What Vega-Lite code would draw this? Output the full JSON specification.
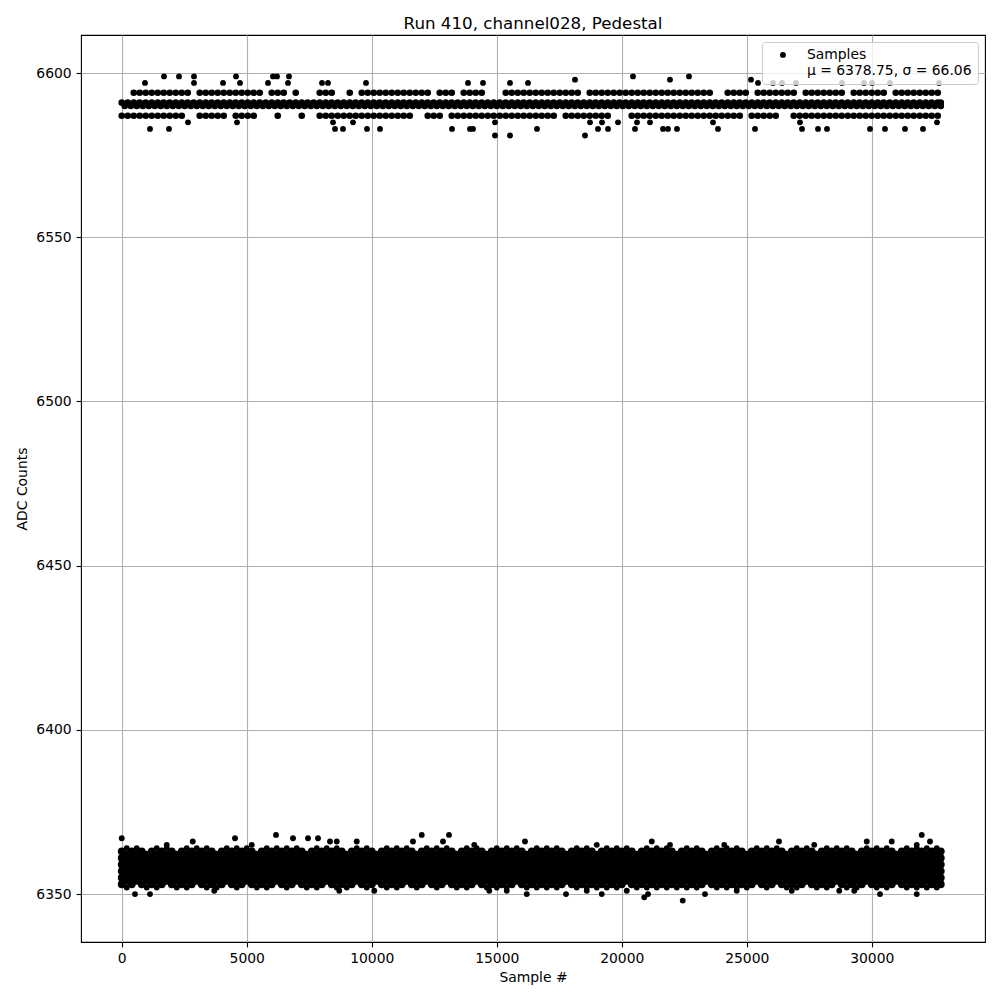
{
"$schema":"https://vega.github.io/schema/vega-lite/v6.json",
"width":904,"height":907,
"autosize":{"type":"none"},
"padding":{"left":81,"top":35,"right":15,"bottom":58},
"background":"white",
"title":{"text":"Run 410, channel028, Pedestal","font":"DejaVu Sans","fontSize":16.7,"fontWeight":"normal","color":"black","offset":2},
"config":{
"view":{"stroke":"black","strokeWidth":1.1},
"axis":{"domain":false,"grid":true,"gridColor":"#b0b0b0","gridWidth":1.1,"tickColor":"black","tickSize":4.9,"tickWidth":1.1,"labelPadding":4.9,"labelFont":"DejaVu Sans","labelFontSize":13.9,"labelColor":"black","titleFont":"DejaVu Sans","titleFontSize":13.9,"titleFontWeight":"normal","titleColor":"black"}
},
"data":{"values":[
{"s":0,"v":6353},{"s":400,"v":6353},{"s":800,"v":6353},{"s":1200,"v":6353},{"s":1600,"v":6353},{"s":2000,"v":6353},{"s":2400,"v":6353},{"s":2800,"v":6353},{"s":3200,"v":6353},{"s":3600,"v":6353},{"s":4000,"v":6353},{"s":4400,"v":6353},{"s":4800,"v":6353},{"s":5200,"v":6353},{"s":5600,"v":6353},{"s":6000,"v":6353},{"s":6400,"v":6353},{"s":6800,"v":6353},{"s":7200,"v":6353},{"s":7600,"v":6353},{"s":8000,"v":6353},{"s":8400,"v":6353},{"s":8800,"v":6353},{"s":9200,"v":6353},{"s":9600,"v":6353},{"s":10000,"v":6353},{"s":10400,"v":6353},{"s":10800,"v":6353},{"s":11200,"v":6353},{"s":11600,"v":6353},{"s":12000,"v":6353},{"s":12400,"v":6353},{"s":12800,"v":6353},{"s":13200,"v":6353},{"s":13600,"v":6353},{"s":14000,"v":6353},{"s":14400,"v":6353},{"s":14800,"v":6353},{"s":15200,"v":6353},{"s":15600,"v":6353},{"s":16000,"v":6353},{"s":16400,"v":6353},{"s":16800,"v":6353},{"s":17200,"v":6353},{"s":17600,"v":6353},{"s":18000,"v":6353},{"s":18400,"v":6353},{"s":18800,"v":6353},{"s":19200,"v":6353},{"s":19600,"v":6353},{"s":20000,"v":6353},{"s":20400,"v":6353},{"s":20800,"v":6353},{"s":21200,"v":6353},{"s":21600,"v":6353},{"s":22000,"v":6353},{"s":22400,"v":6353},{"s":22800,"v":6353},{"s":23200,"v":6353},{"s":23600,"v":6353},{"s":24000,"v":6353},{"s":24400,"v":6353},{"s":24800,"v":6353},{"s":25200,"v":6353},{"s":25600,"v":6353},{"s":26000,"v":6353},{"s":26400,"v":6353},{"s":26800,"v":6353},{"s":27200,"v":6353},{"s":27600,"v":6353},{"s":28000,"v":6353},{"s":28400,"v":6353},{"s":28800,"v":6353},{"s":29200,"v":6353},{"s":29600,"v":6353},{"s":30000,"v":6353},{"s":30400,"v":6353},{"s":30800,"v":6353},{"s":31200,"v":6353},{"s":31600,"v":6353},{"s":32000,"v":6353},{"s":32400,"v":6353},{"s":32760,"v":6353},
{"s":0,"v":6355},{"s":400,"v":6355},{"s":800,"v":6355},{"s":1200,"v":6355},{"s":1600,"v":6355},{"s":2000,"v":6355},{"s":2400,"v":6355},{"s":2800,"v":6355},{"s":3200,"v":6355},{"s":3600,"v":6355},{"s":4000,"v":6355},{"s":4400,"v":6355},{"s":4800,"v":6355},{"s":5200,"v":6355},{"s":5600,"v":6355},{"s":6000,"v":6355},{"s":6400,"v":6355},{"s":6800,"v":6355},{"s":7200,"v":6355},{"s":7600,"v":6355},{"s":8000,"v":6355},{"s":8400,"v":6355},{"s":8800,"v":6355},{"s":9200,"v":6355},{"s":9600,"v":6355},{"s":10000,"v":6355},{"s":10400,"v":6355},{"s":10800,"v":6355},{"s":11200,"v":6355},{"s":11600,"v":6355},{"s":12000,"v":6355},{"s":12400,"v":6355},{"s":12800,"v":6355},{"s":13200,"v":6355},{"s":13600,"v":6355},{"s":14000,"v":6355},{"s":14400,"v":6355},{"s":14800,"v":6355},{"s":15200,"v":6355},{"s":15600,"v":6355},{"s":16000,"v":6355},{"s":16400,"v":6355},{"s":16800,"v":6355},{"s":17200,"v":6355},{"s":17600,"v":6355},{"s":18000,"v":6355},{"s":18400,"v":6355},{"s":18800,"v":6355},{"s":19200,"v":6355},{"s":19600,"v":6355},{"s":20000,"v":6355},{"s":20400,"v":6355},{"s":20800,"v":6355},{"s":21200,"v":6355},{"s":21600,"v":6355},{"s":22000,"v":6355},{"s":22400,"v":6355},{"s":22800,"v":6355},{"s":23200,"v":6355},{"s":23600,"v":6355},{"s":24000,"v":6355},{"s":24400,"v":6355},{"s":24800,"v":6355},{"s":25200,"v":6355},{"s":25600,"v":6355},{"s":26000,"v":6355},{"s":26400,"v":6355},{"s":26800,"v":6355},{"s":27200,"v":6355},{"s":27600,"v":6355},{"s":28000,"v":6355},{"s":28400,"v":6355},{"s":28800,"v":6355},{"s":29200,"v":6355},{"s":29600,"v":6355},{"s":30000,"v":6355},{"s":30400,"v":6355},{"s":30800,"v":6355},{"s":31200,"v":6355},{"s":31600,"v":6355},{"s":32000,"v":6355},{"s":32400,"v":6355},{"s":32760,"v":6355},
{"s":0,"v":6357},{"s":400,"v":6357},{"s":800,"v":6357},{"s":1200,"v":6357},{"s":1600,"v":6357},{"s":2000,"v":6357},{"s":2400,"v":6357},{"s":2800,"v":6357},{"s":3200,"v":6357},{"s":3600,"v":6357},{"s":4000,"v":6357},{"s":4400,"v":6357},{"s":4800,"v":6357},{"s":5200,"v":6357},{"s":5600,"v":6357},{"s":6000,"v":6357},{"s":6400,"v":6357},{"s":6800,"v":6357},{"s":7200,"v":6357},{"s":7600,"v":6357},{"s":8000,"v":6357},{"s":8400,"v":6357},{"s":8800,"v":6357},{"s":9200,"v":6357},{"s":9600,"v":6357},{"s":10000,"v":6357},{"s":10400,"v":6357},{"s":10800,"v":6357},{"s":11200,"v":6357},{"s":11600,"v":6357},{"s":12000,"v":6357},{"s":12400,"v":6357},{"s":12800,"v":6357},{"s":13200,"v":6357},{"s":13600,"v":6357},{"s":14000,"v":6357},{"s":14400,"v":6357},{"s":14800,"v":6357},{"s":15200,"v":6357},{"s":15600,"v":6357},{"s":16000,"v":6357},{"s":16400,"v":6357},{"s":16800,"v":6357},{"s":17200,"v":6357},{"s":17600,"v":6357},{"s":18000,"v":6357},{"s":18400,"v":6357},{"s":18800,"v":6357},{"s":19200,"v":6357},{"s":19600,"v":6357},{"s":20000,"v":6357},{"s":20400,"v":6357},{"s":20800,"v":6357},{"s":21200,"v":6357},{"s":21600,"v":6357},{"s":22000,"v":6357},{"s":22400,"v":6357},{"s":22800,"v":6357},{"s":23200,"v":6357},{"s":23600,"v":6357},{"s":24000,"v":6357},{"s":24400,"v":6357},{"s":24800,"v":6357},{"s":25200,"v":6357},{"s":25600,"v":6357},{"s":26000,"v":6357},{"s":26400,"v":6357},{"s":26800,"v":6357},{"s":27200,"v":6357},{"s":27600,"v":6357},{"s":28000,"v":6357},{"s":28400,"v":6357},{"s":28800,"v":6357},{"s":29200,"v":6357},{"s":29600,"v":6357},{"s":30000,"v":6357},{"s":30400,"v":6357},{"s":30800,"v":6357},{"s":31200,"v":6357},{"s":31600,"v":6357},{"s":32000,"v":6357},{"s":32400,"v":6357},{"s":32760,"v":6357},
{"s":0,"v":6359},{"s":400,"v":6359},{"s":800,"v":6359},{"s":1200,"v":6359},{"s":1600,"v":6359},{"s":2000,"v":6359},{"s":2400,"v":6359},{"s":2800,"v":6359},{"s":3200,"v":6359},{"s":3600,"v":6359},{"s":4000,"v":6359},{"s":4400,"v":6359},{"s":4800,"v":6359},{"s":5200,"v":6359},{"s":5600,"v":6359},{"s":6000,"v":6359},{"s":6400,"v":6359},{"s":6800,"v":6359},{"s":7200,"v":6359},{"s":7600,"v":6359},{"s":8000,"v":6359},{"s":8400,"v":6359},{"s":8800,"v":6359},{"s":9200,"v":6359},{"s":9600,"v":6359},{"s":10000,"v":6359},{"s":10400,"v":6359},{"s":10800,"v":6359},{"s":11200,"v":6359},{"s":11600,"v":6359},{"s":12000,"v":6359},{"s":12400,"v":6359},{"s":12800,"v":6359},{"s":13200,"v":6359},{"s":13600,"v":6359},{"s":14000,"v":6359},{"s":14400,"v":6359},{"s":14800,"v":6359},{"s":15200,"v":6359},{"s":15600,"v":6359},{"s":16000,"v":6359},{"s":16400,"v":6359},{"s":16800,"v":6359},{"s":17200,"v":6359},{"s":17600,"v":6359},{"s":18000,"v":6359},{"s":18400,"v":6359},{"s":18800,"v":6359},{"s":19200,"v":6359},{"s":19600,"v":6359},{"s":20000,"v":6359},{"s":20400,"v":6359},{"s":20800,"v":6359},{"s":21200,"v":6359},{"s":21600,"v":6359},{"s":22000,"v":6359},{"s":22400,"v":6359},{"s":22800,"v":6359},{"s":23200,"v":6359},{"s":23600,"v":6359},{"s":24000,"v":6359},{"s":24400,"v":6359},{"s":24800,"v":6359},{"s":25200,"v":6359},{"s":25600,"v":6359},{"s":26000,"v":6359},{"s":26400,"v":6359},{"s":26800,"v":6359},{"s":27200,"v":6359},{"s":27600,"v":6359},{"s":28000,"v":6359},{"s":28400,"v":6359},{"s":28800,"v":6359},{"s":29200,"v":6359},{"s":29600,"v":6359},{"s":30000,"v":6359},{"s":30400,"v":6359},{"s":30800,"v":6359},{"s":31200,"v":6359},{"s":31600,"v":6359},{"s":32000,"v":6359},{"s":32400,"v":6359},{"s":32760,"v":6359},
{"s":0,"v":6361},{"s":400,"v":6361},{"s":800,"v":6361},{"s":1200,"v":6361},{"s":1600,"v":6361},{"s":2000,"v":6361},{"s":2400,"v":6361},{"s":2800,"v":6361},{"s":3200,"v":6361},{"s":3600,"v":6361},{"s":4000,"v":6361},{"s":4400,"v":6361},{"s":4800,"v":6361},{"s":5200,"v":6361},{"s":5600,"v":6361},{"s":6000,"v":6361},{"s":6400,"v":6361},{"s":6800,"v":6361},{"s":7200,"v":6361},{"s":7600,"v":6361},{"s":8000,"v":6361},{"s":8400,"v":6361},{"s":8800,"v":6361},{"s":9200,"v":6361},{"s":9600,"v":6361},{"s":10000,"v":6361},{"s":10400,"v":6361},{"s":10800,"v":6361},{"s":11200,"v":6361},{"s":11600,"v":6361},{"s":12000,"v":6361},{"s":12400,"v":6361},{"s":12800,"v":6361},{"s":13200,"v":6361},{"s":13600,"v":6361},{"s":14000,"v":6361},{"s":14400,"v":6361},{"s":14800,"v":6361},{"s":15200,"v":6361},{"s":15600,"v":6361},{"s":16000,"v":6361},{"s":16400,"v":6361},{"s":16800,"v":6361},{"s":17200,"v":6361},{"s":17600,"v":6361},{"s":18000,"v":6361},{"s":18400,"v":6361},{"s":18800,"v":6361},{"s":19200,"v":6361},{"s":19600,"v":6361},{"s":20000,"v":6361},{"s":20400,"v":6361},{"s":20800,"v":6361},{"s":21200,"v":6361},{"s":21600,"v":6361},{"s":22000,"v":6361},{"s":22400,"v":6361},{"s":22800,"v":6361},{"s":23200,"v":6361},{"s":23600,"v":6361},{"s":24000,"v":6361},{"s":24400,"v":6361},{"s":24800,"v":6361},{"s":25200,"v":6361},{"s":25600,"v":6361},{"s":26000,"v":6361},{"s":26400,"v":6361},{"s":26800,"v":6361},{"s":27200,"v":6361},{"s":27600,"v":6361},{"s":28000,"v":6361},{"s":28400,"v":6361},{"s":28800,"v":6361},{"s":29200,"v":6361},{"s":29600,"v":6361},{"s":30000,"v":6361},{"s":30400,"v":6361},{"s":30800,"v":6361},{"s":31200,"v":6361},{"s":31600,"v":6361},{"s":32000,"v":6361},{"s":32400,"v":6361},{"s":32760,"v":6361},
{"s":0,"v":6363},{"s":400,"v":6363},{"s":800,"v":6363},{"s":1200,"v":6363},{"s":1600,"v":6363},{"s":2000,"v":6363},{"s":2400,"v":6363},{"s":2800,"v":6363},{"s":3200,"v":6363},{"s":3600,"v":6363},{"s":4000,"v":6363},{"s":4400,"v":6363},{"s":4800,"v":6363},{"s":5200,"v":6363},{"s":5600,"v":6363},{"s":6000,"v":6363},{"s":6400,"v":6363},{"s":6800,"v":6363},{"s":7200,"v":6363},{"s":7600,"v":6363},{"s":8000,"v":6363},{"s":8400,"v":6363},{"s":8800,"v":6363},{"s":9200,"v":6363},{"s":9600,"v":6363},{"s":10000,"v":6363},{"s":10400,"v":6363},{"s":10800,"v":6363},{"s":11200,"v":6363},{"s":11600,"v":6363},{"s":12000,"v":6363},{"s":12400,"v":6363},{"s":12800,"v":6363},{"s":13200,"v":6363},{"s":13600,"v":6363},{"s":14000,"v":6363},{"s":14400,"v":6363},{"s":14800,"v":6363},{"s":15200,"v":6363},{"s":15600,"v":6363},{"s":16000,"v":6363},{"s":16400,"v":6363},{"s":16800,"v":6363},{"s":17200,"v":6363},{"s":17600,"v":6363},{"s":18000,"v":6363},{"s":18400,"v":6363},{"s":18800,"v":6363},{"s":19200,"v":6363},{"s":19600,"v":6363},{"s":20000,"v":6363},{"s":20400,"v":6363},{"s":20800,"v":6363},{"s":21200,"v":6363},{"s":21600,"v":6363},{"s":22000,"v":6363},{"s":22400,"v":6363},{"s":22800,"v":6363},{"s":23200,"v":6363},{"s":23600,"v":6363},{"s":24000,"v":6363},{"s":24400,"v":6363},{"s":24800,"v":6363},{"s":25200,"v":6363},{"s":25600,"v":6363},{"s":26000,"v":6363},{"s":26400,"v":6363},{"s":26800,"v":6363},{"s":27200,"v":6363},{"s":27600,"v":6363},{"s":28000,"v":6363},{"s":28400,"v":6363},{"s":28800,"v":6363},{"s":29200,"v":6363},{"s":29600,"v":6363},{"s":30000,"v":6363},{"s":30400,"v":6363},{"s":30800,"v":6363},{"s":31200,"v":6363},{"s":31600,"v":6363},{"s":32000,"v":6363},{"s":32400,"v":6363},{"s":32760,"v":6363},
{"s":200,"v":6354},{"s":600,"v":6354},{"s":1000,"v":6354},{"s":1400,"v":6354},{"s":1800,"v":6354},{"s":2200,"v":6354},{"s":2600,"v":6354},{"s":3000,"v":6354},{"s":3400,"v":6354},{"s":3800,"v":6354},{"s":4200,"v":6354},{"s":4600,"v":6354},{"s":5000,"v":6354},{"s":5400,"v":6354},{"s":5800,"v":6354},{"s":6200,"v":6354},{"s":6600,"v":6354},{"s":7000,"v":6354},{"s":7400,"v":6354},{"s":7800,"v":6354},{"s":8200,"v":6354},{"s":8600,"v":6354},{"s":9000,"v":6354},{"s":9400,"v":6354},{"s":9800,"v":6354},{"s":10200,"v":6354},{"s":10600,"v":6354},{"s":11000,"v":6354},{"s":11400,"v":6354},{"s":11800,"v":6354},{"s":12200,"v":6354},{"s":12600,"v":6354},{"s":13000,"v":6354},{"s":13400,"v":6354},{"s":13800,"v":6354},{"s":14200,"v":6354},{"s":14600,"v":6354},{"s":15000,"v":6354},{"s":15400,"v":6354},{"s":15800,"v":6354},{"s":16200,"v":6354},{"s":16600,"v":6354},{"s":17000,"v":6354},{"s":17400,"v":6354},{"s":17800,"v":6354},{"s":18200,"v":6354},{"s":18600,"v":6354},{"s":19000,"v":6354},{"s":19400,"v":6354},{"s":19800,"v":6354},{"s":20200,"v":6354},{"s":20600,"v":6354},{"s":21000,"v":6354},{"s":21400,"v":6354},{"s":21800,"v":6354},{"s":22200,"v":6354},{"s":22600,"v":6354},{"s":23000,"v":6354},{"s":23400,"v":6354},{"s":23800,"v":6354},{"s":24200,"v":6354},{"s":24600,"v":6354},{"s":25000,"v":6354},{"s":25400,"v":6354},{"s":25800,"v":6354},{"s":26200,"v":6354},{"s":26600,"v":6354},{"s":27000,"v":6354},{"s":27400,"v":6354},{"s":27800,"v":6354},{"s":28200,"v":6354},{"s":28600,"v":6354},{"s":29000,"v":6354},{"s":29400,"v":6354},{"s":29800,"v":6354},{"s":30200,"v":6354},{"s":30600,"v":6354},{"s":31000,"v":6354},{"s":31400,"v":6354},{"s":31800,"v":6354},{"s":32200,"v":6354},{"s":32600,"v":6354},
{"s":200,"v":6356},{"s":600,"v":6356},{"s":1000,"v":6356},{"s":1400,"v":6356},{"s":1800,"v":6356},{"s":2200,"v":6356},{"s":2600,"v":6356},{"s":3000,"v":6356},{"s":3400,"v":6356},{"s":3800,"v":6356},{"s":4200,"v":6356},{"s":4600,"v":6356},{"s":5000,"v":6356},{"s":5400,"v":6356},{"s":5800,"v":6356},{"s":6200,"v":6356},{"s":6600,"v":6356},{"s":7000,"v":6356},{"s":7400,"v":6356},{"s":7800,"v":6356},{"s":8200,"v":6356},{"s":8600,"v":6356},{"s":9000,"v":6356},{"s":9400,"v":6356},{"s":9800,"v":6356},{"s":10200,"v":6356},{"s":10600,"v":6356},{"s":11000,"v":6356},{"s":11400,"v":6356},{"s":11800,"v":6356},{"s":12200,"v":6356},{"s":12600,"v":6356},{"s":13000,"v":6356},{"s":13400,"v":6356},{"s":13800,"v":6356},{"s":14200,"v":6356},{"s":14600,"v":6356},{"s":15000,"v":6356},{"s":15400,"v":6356},{"s":15800,"v":6356},{"s":16200,"v":6356},{"s":16600,"v":6356},{"s":17000,"v":6356},{"s":17400,"v":6356},{"s":17800,"v":6356},{"s":18200,"v":6356},{"s":18600,"v":6356},{"s":19000,"v":6356},{"s":19400,"v":6356},{"s":19800,"v":6356},{"s":20200,"v":6356},{"s":20600,"v":6356},{"s":21000,"v":6356},{"s":21400,"v":6356},{"s":21800,"v":6356},{"s":22200,"v":6356},{"s":22600,"v":6356},{"s":23000,"v":6356},{"s":23400,"v":6356},{"s":23800,"v":6356},{"s":24200,"v":6356},{"s":24600,"v":6356},{"s":25000,"v":6356},{"s":25400,"v":6356},{"s":25800,"v":6356},{"s":26200,"v":6356},{"s":26600,"v":6356},{"s":27000,"v":6356},{"s":27400,"v":6356},{"s":27800,"v":6356},{"s":28200,"v":6356},{"s":28600,"v":6356},{"s":29000,"v":6356},{"s":29400,"v":6356},{"s":29800,"v":6356},{"s":30200,"v":6356},{"s":30600,"v":6356},{"s":31000,"v":6356},{"s":31400,"v":6356},{"s":31800,"v":6356},{"s":32200,"v":6356},{"s":32600,"v":6356},
{"s":200,"v":6358},{"s":600,"v":6358},{"s":1000,"v":6358},{"s":1400,"v":6358},{"s":1800,"v":6358},{"s":2200,"v":6358},{"s":2600,"v":6358},{"s":3000,"v":6358},{"s":3400,"v":6358},{"s":3800,"v":6358},{"s":4200,"v":6358},{"s":4600,"v":6358},{"s":5000,"v":6358},{"s":5400,"v":6358},{"s":5800,"v":6358},{"s":6200,"v":6358},{"s":6600,"v":6358},{"s":7000,"v":6358},{"s":7400,"v":6358},{"s":7800,"v":6358},{"s":8200,"v":6358},{"s":8600,"v":6358},{"s":9000,"v":6358},{"s":9400,"v":6358},{"s":9800,"v":6358},{"s":10200,"v":6358},{"s":10600,"v":6358},{"s":11000,"v":6358},{"s":11400,"v":6358},{"s":11800,"v":6358},{"s":12200,"v":6358},{"s":12600,"v":6358},{"s":13000,"v":6358},{"s":13400,"v":6358},{"s":13800,"v":6358},{"s":14200,"v":6358},{"s":14600,"v":6358},{"s":15000,"v":6358},{"s":15400,"v":6358},{"s":15800,"v":6358},{"s":16200,"v":6358},{"s":16600,"v":6358},{"s":17000,"v":6358},{"s":17400,"v":6358},{"s":17800,"v":6358},{"s":18200,"v":6358},{"s":18600,"v":6358},{"s":19000,"v":6358},{"s":19400,"v":6358},{"s":19800,"v":6358},{"s":20200,"v":6358},{"s":20600,"v":6358},{"s":21000,"v":6358},{"s":21400,"v":6358},{"s":21800,"v":6358},{"s":22200,"v":6358},{"s":22600,"v":6358},{"s":23000,"v":6358},{"s":23400,"v":6358},{"s":23800,"v":6358},{"s":24200,"v":6358},{"s":24600,"v":6358},{"s":25000,"v":6358},{"s":25400,"v":6358},{"s":25800,"v":6358},{"s":26200,"v":6358},{"s":26600,"v":6358},{"s":27000,"v":6358},{"s":27400,"v":6358},{"s":27800,"v":6358},{"s":28200,"v":6358},{"s":28600,"v":6358},{"s":29000,"v":6358},{"s":29400,"v":6358},{"s":29800,"v":6358},{"s":30200,"v":6358},{"s":30600,"v":6358},{"s":31000,"v":6358},{"s":31400,"v":6358},{"s":31800,"v":6358},{"s":32200,"v":6358},{"s":32600,"v":6358},
{"s":200,"v":6360},{"s":600,"v":6360},{"s":1000,"v":6360},{"s":1400,"v":6360},{"s":1800,"v":6360},{"s":2200,"v":6360},{"s":2600,"v":6360},{"s":3000,"v":6360},{"s":3400,"v":6360},{"s":3800,"v":6360},{"s":4200,"v":6360},{"s":4600,"v":6360},{"s":5000,"v":6360},{"s":5400,"v":6360},{"s":5800,"v":6360},{"s":6200,"v":6360},{"s":6600,"v":6360},{"s":7000,"v":6360},{"s":7400,"v":6360},{"s":7800,"v":6360},{"s":8200,"v":6360},{"s":8600,"v":6360},{"s":9000,"v":6360},{"s":9400,"v":6360},{"s":9800,"v":6360},{"s":10200,"v":6360},{"s":10600,"v":6360},{"s":11000,"v":6360},{"s":11400,"v":6360},{"s":11800,"v":6360},{"s":12200,"v":6360},{"s":12600,"v":6360},{"s":13000,"v":6360},{"s":13400,"v":6360},{"s":13800,"v":6360},{"s":14200,"v":6360},{"s":14600,"v":6360},{"s":15000,"v":6360},{"s":15400,"v":6360},{"s":15800,"v":6360},{"s":16200,"v":6360},{"s":16600,"v":6360},{"s":17000,"v":6360},{"s":17400,"v":6360},{"s":17800,"v":6360},{"s":18200,"v":6360},{"s":18600,"v":6360},{"s":19000,"v":6360},{"s":19400,"v":6360},{"s":19800,"v":6360},{"s":20200,"v":6360},{"s":20600,"v":6360},{"s":21000,"v":6360},{"s":21400,"v":6360},{"s":21800,"v":6360},{"s":22200,"v":6360},{"s":22600,"v":6360},{"s":23000,"v":6360},{"s":23400,"v":6360},{"s":23800,"v":6360},{"s":24200,"v":6360},{"s":24600,"v":6360},{"s":25000,"v":6360},{"s":25400,"v":6360},{"s":25800,"v":6360},{"s":26200,"v":6360},{"s":26600,"v":6360},{"s":27000,"v":6360},{"s":27400,"v":6360},{"s":27800,"v":6360},{"s":28200,"v":6360},{"s":28600,"v":6360},{"s":29000,"v":6360},{"s":29400,"v":6360},{"s":29800,"v":6360},{"s":30200,"v":6360},{"s":30600,"v":6360},{"s":31000,"v":6360},{"s":31400,"v":6360},{"s":31800,"v":6360},{"s":32200,"v":6360},{"s":32600,"v":6360},
{"s":200,"v":6362},{"s":600,"v":6362},{"s":1000,"v":6362},{"s":1400,"v":6362},{"s":1800,"v":6362},{"s":2200,"v":6362},{"s":2600,"v":6362},{"s":3000,"v":6362},{"s":3400,"v":6362},{"s":3800,"v":6362},{"s":4200,"v":6362},{"s":4600,"v":6362},{"s":5000,"v":6362},{"s":5400,"v":6362},{"s":5800,"v":6362},{"s":6200,"v":6362},{"s":6600,"v":6362},{"s":7000,"v":6362},{"s":7400,"v":6362},{"s":7800,"v":6362},{"s":8200,"v":6362},{"s":8600,"v":6362},{"s":9000,"v":6362},{"s":9400,"v":6362},{"s":9800,"v":6362},{"s":10200,"v":6362},{"s":10600,"v":6362},{"s":11000,"v":6362},{"s":11400,"v":6362},{"s":11800,"v":6362},{"s":12200,"v":6362},{"s":12600,"v":6362},{"s":13000,"v":6362},{"s":13400,"v":6362},{"s":13800,"v":6362},{"s":14200,"v":6362},{"s":14600,"v":6362},{"s":15000,"v":6362},{"s":15400,"v":6362},{"s":15800,"v":6362},{"s":16200,"v":6362},{"s":16600,"v":6362},{"s":17000,"v":6362},{"s":17400,"v":6362},{"s":17800,"v":6362},{"s":18200,"v":6362},{"s":18600,"v":6362},{"s":19000,"v":6362},{"s":19400,"v":6362},{"s":19800,"v":6362},{"s":20200,"v":6362},{"s":20600,"v":6362},{"s":21000,"v":6362},{"s":21400,"v":6362},{"s":21800,"v":6362},{"s":22200,"v":6362},{"s":22600,"v":6362},{"s":23000,"v":6362},{"s":23400,"v":6362},{"s":23800,"v":6362},{"s":24200,"v":6362},{"s":24600,"v":6362},{"s":25000,"v":6362},{"s":25400,"v":6362},{"s":25800,"v":6362},{"s":26200,"v":6362},{"s":26600,"v":6362},{"s":27000,"v":6362},{"s":27400,"v":6362},{"s":27800,"v":6362},{"s":28200,"v":6362},{"s":28600,"v":6362},{"s":29000,"v":6362},{"s":29400,"v":6362},{"s":29800,"v":6362},{"s":30200,"v":6362},{"s":30600,"v":6362},{"s":31000,"v":6362},{"s":31400,"v":6362},{"s":31800,"v":6362},{"s":32200,"v":6362},{"s":32600,"v":6362},
{"s":200,"v":6364},{"s":600,"v":6364},{"s":1400,"v":6364},{"s":1800,"v":6364},{"s":2600,"v":6364},{"s":3000,"v":6364},{"s":3400,"v":6364},{"s":4200,"v":6364},{"s":4600,"v":6364},{"s":5000,"v":6364},{"s":5800,"v":6364},{"s":6200,"v":6364},{"s":6600,"v":6364},{"s":7000,"v":6364},{"s":7800,"v":6364},{"s":8200,"v":6364},{"s":8600,"v":6364},{"s":9400,"v":6364},{"s":9800,"v":6364},{"s":10600,"v":6364},{"s":11000,"v":6364},{"s":11400,"v":6364},{"s":12200,"v":6364},{"s":12600,"v":6364},{"s":13000,"v":6364},{"s":13800,"v":6364},{"s":14200,"v":6364},{"s":15000,"v":6364},{"s":15400,"v":6364},{"s":15800,"v":6364},{"s":16600,"v":6364},{"s":17000,"v":6364},{"s":17400,"v":6364},{"s":18200,"v":6364},{"s":18600,"v":6364},{"s":19400,"v":6364},{"s":19800,"v":6364},{"s":20200,"v":6364},{"s":21000,"v":6364},{"s":21400,"v":6364},{"s":21800,"v":6364},{"s":22600,"v":6364},{"s":23000,"v":6364},{"s":23800,"v":6364},{"s":24200,"v":6364},{"s":24600,"v":6364},{"s":25400,"v":6364},{"s":25800,"v":6364},{"s":26200,"v":6364},{"s":27000,"v":6364},{"s":27400,"v":6364},{"s":28200,"v":6364},{"s":28600,"v":6364},{"s":29000,"v":6364},{"s":29800,"v":6364},{"s":30200,"v":6364},{"s":30600,"v":6364},{"s":31400,"v":6364},{"s":31800,"v":6364},{"s":32200,"v":6364},{"s":32600,"v":6364},
{"s":200,"v":6352},{"s":1000,"v":6352},{"s":1400,"v":6352},{"s":2200,"v":6352},{"s":2600,"v":6352},{"s":3400,"v":6352},{"s":3800,"v":6352},{"s":4600,"v":6352},{"s":5400,"v":6352},{"s":5800,"v":6352},{"s":6600,"v":6352},{"s":7400,"v":6352},{"s":7800,"v":6352},{"s":8600,"v":6352},{"s":9000,"v":6352},{"s":9800,"v":6352},{"s":10600,"v":6352},{"s":11000,"v":6352},{"s":11800,"v":6352},{"s":12600,"v":6352},{"s":13400,"v":6352},{"s":13800,"v":6352},{"s":14600,"v":6352},{"s":15000,"v":6352},{"s":15400,"v":6352},{"s":16200,"v":6352},{"s":16600,"v":6352},{"s":17000,"v":6352},{"s":17400,"v":6352},{"s":18200,"v":6352},{"s":18600,"v":6352},{"s":19000,"v":6352},{"s":19400,"v":6352},{"s":19800,"v":6352},{"s":20600,"v":6352},{"s":21000,"v":6352},{"s":21400,"v":6352},{"s":21800,"v":6352},{"s":22200,"v":6352},{"s":22600,"v":6352},{"s":23000,"v":6352},{"s":23800,"v":6352},{"s":24200,"v":6352},{"s":24600,"v":6352},{"s":25000,"v":6352},{"s":25800,"v":6352},{"s":26600,"v":6352},{"s":27000,"v":6352},{"s":27800,"v":6352},{"s":28200,"v":6352},{"s":29000,"v":6352},{"s":29400,"v":6352},{"s":30200,"v":6352},{"s":30600,"v":6352},{"s":31400,"v":6352},{"s":31800,"v":6352},{"s":32200,"v":6352},{"s":32600,"v":6352},
{"s":6170,"v":6368},{"s":12000,"v":6368},{"s":13090,"v":6368},{"s":32000,"v":6368},
{"s":0,"v":6367},{"s":4530,"v":6367},{"s":6850,"v":6367},{"s":7450,"v":6367},{"s":7850,"v":6367},
{"s":2840,"v":6366},{"s":8330,"v":6366},{"s":8600,"v":6366},{"s":9400,"v":6366},{"s":11650,"v":6366},{"s":12850,"v":6366},{"s":16130,"v":6366},{"s":21200,"v":6366},{"s":26290,"v":6366},{"s":29800,"v":6366},{"s":30800,"v":6366},{"s":32330,"v":6366},
{"s":1800,"v":6365},{"s":5200,"v":6365},{"s":14100,"v":6365},{"s":19000,"v":6365},{"s":21930,"v":6365},{"s":24100,"v":6365},{"s":27700,"v":6365},{"s":31800,"v":6365},
{"s":3700,"v":6351},{"s":8700,"v":6351},{"s":10100,"v":6351},{"s":14700,"v":6351},{"s":15400,"v":6351},{"s":18600,"v":6351},{"s":20200,"v":6351},{"s":24600,"v":6351},{"s":26800,"v":6351},{"s":28700,"v":6351},{"s":29300,"v":6351},
{"s":530,"v":6350},{"s":1130,"v":6350},{"s":16200,"v":6350},{"s":17770,"v":6350},{"s":19200,"v":6350},{"s":21050,"v":6350},{"s":23330,"v":6350},{"s":30330,"v":6350},{"s":31800,"v":6350},
{"s":20900,"v":6349},{"s":22440,"v":6348},
{"s":0,"v":6591},{"s":240,"v":6591},{"s":480,"v":6591},{"s":720,"v":6591},{"s":960,"v":6591},{"s":1200,"v":6591},{"s":1440,"v":6591},{"s":1680,"v":6591},{"s":1920,"v":6591},{"s":2160,"v":6591},{"s":2400,"v":6591},{"s":2640,"v":6591},{"s":2880,"v":6591},{"s":3120,"v":6591},{"s":3360,"v":6591},{"s":3600,"v":6591},{"s":3840,"v":6591},{"s":4080,"v":6591},{"s":4320,"v":6591},{"s":4560,"v":6591},{"s":4800,"v":6591},{"s":5040,"v":6591},{"s":5280,"v":6591},{"s":5520,"v":6591},{"s":5760,"v":6591},{"s":6000,"v":6591},{"s":6240,"v":6591},{"s":6480,"v":6591},{"s":6720,"v":6591},{"s":6960,"v":6591},{"s":7200,"v":6591},{"s":7440,"v":6591},{"s":7680,"v":6591},{"s":7920,"v":6591},{"s":8160,"v":6591},{"s":8400,"v":6591},{"s":8640,"v":6591},{"s":8880,"v":6591},{"s":9120,"v":6591},{"s":9360,"v":6591},{"s":9600,"v":6591},{"s":9840,"v":6591},{"s":10080,"v":6591},{"s":10320,"v":6591},{"s":10560,"v":6591},{"s":10800,"v":6591},{"s":11040,"v":6591},{"s":11280,"v":6591},{"s":11520,"v":6591},{"s":11760,"v":6591},{"s":12000,"v":6591},{"s":12240,"v":6591},{"s":12480,"v":6591},{"s":12720,"v":6591},{"s":12960,"v":6591},{"s":13200,"v":6591},{"s":13440,"v":6591},{"s":13680,"v":6591},{"s":13920,"v":6591},{"s":14160,"v":6591},{"s":14400,"v":6591},{"s":14640,"v":6591},{"s":14880,"v":6591},{"s":15120,"v":6591},{"s":15360,"v":6591},{"s":15600,"v":6591},{"s":15840,"v":6591},{"s":16080,"v":6591},{"s":16320,"v":6591},{"s":16560,"v":6591},{"s":16800,"v":6591},{"s":17040,"v":6591},{"s":17280,"v":6591},{"s":17520,"v":6591},{"s":17760,"v":6591},{"s":18000,"v":6591},{"s":18240,"v":6591},{"s":18480,"v":6591},{"s":18720,"v":6591},{"s":18960,"v":6591},{"s":19200,"v":6591},{"s":19440,"v":6591},{"s":19680,"v":6591},{"s":19920,"v":6591},{"s":20160,"v":6591},{"s":20400,"v":6591},{"s":20640,"v":6591},{"s":20880,"v":6591},{"s":21120,"v":6591},{"s":21360,"v":6591},{"s":21600,"v":6591},{"s":21840,"v":6591},{"s":22080,"v":6591},{"s":22320,"v":6591},{"s":22560,"v":6591},{"s":22800,"v":6591},{"s":23040,"v":6591},{"s":23280,"v":6591},{"s":23520,"v":6591},{"s":23760,"v":6591},{"s":24000,"v":6591},{"s":24240,"v":6591},{"s":24480,"v":6591},{"s":24720,"v":6591},{"s":24960,"v":6591},{"s":25200,"v":6591},{"s":25440,"v":6591},{"s":25680,"v":6591},{"s":25920,"v":6591},{"s":26160,"v":6591},{"s":26400,"v":6591},{"s":26640,"v":6591},{"s":26880,"v":6591},{"s":27120,"v":6591},{"s":27360,"v":6591},{"s":27600,"v":6591},{"s":27840,"v":6591},{"s":28080,"v":6591},{"s":28320,"v":6591},{"s":28560,"v":6591},{"s":28800,"v":6591},{"s":29040,"v":6591},{"s":29280,"v":6591},{"s":29520,"v":6591},{"s":29760,"v":6591},{"s":30000,"v":6591},{"s":30240,"v":6591},{"s":30480,"v":6591},{"s":30720,"v":6591},{"s":30960,"v":6591},{"s":31200,"v":6591},{"s":31440,"v":6591},{"s":31680,"v":6591},{"s":31920,"v":6591},{"s":32160,"v":6591},{"s":32400,"v":6591},{"s":32640,"v":6591},{"s":32760,"v":6591},
{"s":120,"v":6590},{"s":360,"v":6590},{"s":600,"v":6590},{"s":840,"v":6590},{"s":1080,"v":6590},{"s":1320,"v":6590},{"s":1560,"v":6590},{"s":1800,"v":6590},{"s":2040,"v":6590},{"s":2280,"v":6590},{"s":2520,"v":6590},{"s":2760,"v":6590},{"s":3000,"v":6590},{"s":3240,"v":6590},{"s":3480,"v":6590},{"s":3720,"v":6590},{"s":3960,"v":6590},{"s":4200,"v":6590},{"s":4440,"v":6590},{"s":4680,"v":6590},{"s":4920,"v":6590},{"s":5160,"v":6590},{"s":5400,"v":6590},{"s":5640,"v":6590},{"s":5880,"v":6590},{"s":6120,"v":6590},{"s":6360,"v":6590},{"s":6600,"v":6590},{"s":6840,"v":6590},{"s":7080,"v":6590},{"s":7320,"v":6590},{"s":7560,"v":6590},{"s":7800,"v":6590},{"s":8040,"v":6590},{"s":8280,"v":6590},{"s":8520,"v":6590},{"s":8760,"v":6590},{"s":9000,"v":6590},{"s":9240,"v":6590},{"s":9480,"v":6590},{"s":9720,"v":6590},{"s":9960,"v":6590},{"s":10200,"v":6590},{"s":10440,"v":6590},{"s":10680,"v":6590},{"s":10920,"v":6590},{"s":11160,"v":6590},{"s":11400,"v":6590},{"s":11640,"v":6590},{"s":11880,"v":6590},{"s":12120,"v":6590},{"s":12360,"v":6590},{"s":12600,"v":6590},{"s":12840,"v":6590},{"s":13080,"v":6590},{"s":13320,"v":6590},{"s":13560,"v":6590},{"s":13800,"v":6590},{"s":14040,"v":6590},{"s":14280,"v":6590},{"s":14520,"v":6590},{"s":14760,"v":6590},{"s":15000,"v":6590},{"s":15240,"v":6590},{"s":15480,"v":6590},{"s":15720,"v":6590},{"s":15960,"v":6590},{"s":16200,"v":6590},{"s":16440,"v":6590},{"s":16680,"v":6590},{"s":16920,"v":6590},{"s":17160,"v":6590},{"s":17400,"v":6590},{"s":17640,"v":6590},{"s":17880,"v":6590},{"s":18120,"v":6590},{"s":18360,"v":6590},{"s":18600,"v":6590},{"s":18840,"v":6590},{"s":19080,"v":6590},{"s":19320,"v":6590},{"s":19560,"v":6590},{"s":19800,"v":6590},{"s":20040,"v":6590},{"s":20280,"v":6590},{"s":20520,"v":6590},{"s":20760,"v":6590},{"s":21000,"v":6590},{"s":21240,"v":6590},{"s":21480,"v":6590},{"s":21720,"v":6590},{"s":21960,"v":6590},{"s":22200,"v":6590},{"s":22440,"v":6590},{"s":22680,"v":6590},{"s":22920,"v":6590},{"s":23160,"v":6590},{"s":23400,"v":6590},{"s":23640,"v":6590},{"s":23880,"v":6590},{"s":24120,"v":6590},{"s":24360,"v":6590},{"s":24600,"v":6590},{"s":24840,"v":6590},{"s":25080,"v":6590},{"s":25320,"v":6590},{"s":25560,"v":6590},{"s":25800,"v":6590},{"s":26040,"v":6590},{"s":26280,"v":6590},{"s":26520,"v":6590},{"s":26760,"v":6590},{"s":27000,"v":6590},{"s":27240,"v":6590},{"s":27480,"v":6590},{"s":27720,"v":6590},{"s":27960,"v":6590},{"s":28200,"v":6590},{"s":28440,"v":6590},{"s":28680,"v":6590},{"s":28920,"v":6590},{"s":29160,"v":6590},{"s":29400,"v":6590},{"s":29640,"v":6590},{"s":29880,"v":6590},{"s":30120,"v":6590},{"s":30360,"v":6590},{"s":30600,"v":6590},{"s":30840,"v":6590},{"s":31080,"v":6590},{"s":31320,"v":6590},{"s":31560,"v":6590},{"s":31800,"v":6590},{"s":32040,"v":6590},{"s":32280,"v":6590},{"s":32520,"v":6590},{"s":32760,"v":6590},
{"s":480,"v":6594},{"s":720,"v":6594},{"s":960,"v":6594},{"s":1200,"v":6594},{"s":1440,"v":6594},{"s":1680,"v":6594},{"s":1920,"v":6594},{"s":2160,"v":6594},{"s":2400,"v":6594},{"s":2640,"v":6594},{"s":3120,"v":6594},{"s":3360,"v":6594},{"s":3600,"v":6594},{"s":3840,"v":6594},{"s":4080,"v":6594},{"s":4320,"v":6594},{"s":4560,"v":6594},{"s":4800,"v":6594},{"s":5040,"v":6594},{"s":5280,"v":6594},{"s":5520,"v":6594},{"s":6000,"v":6594},{"s":6240,"v":6594},{"s":6480,"v":6594},{"s":6960,"v":6594},{"s":7920,"v":6594},{"s":8160,"v":6594},{"s":8400,"v":6594},{"s":9120,"v":6594},{"s":9600,"v":6594},{"s":9840,"v":6594},{"s":10080,"v":6594},{"s":10320,"v":6594},{"s":10560,"v":6594},{"s":10800,"v":6594},{"s":11040,"v":6594},{"s":11280,"v":6594},{"s":11520,"v":6594},{"s":11760,"v":6594},{"s":12000,"v":6594},{"s":12240,"v":6594},{"s":12720,"v":6594},{"s":12960,"v":6594},{"s":13200,"v":6594},{"s":13680,"v":6594},{"s":13920,"v":6594},{"s":14160,"v":6594},{"s":14400,"v":6594},{"s":15360,"v":6594},{"s":15600,"v":6594},{"s":15840,"v":6594},{"s":16080,"v":6594},{"s":16320,"v":6594},{"s":16560,"v":6594},{"s":16800,"v":6594},{"s":17040,"v":6594},{"s":17280,"v":6594},{"s":17520,"v":6594},{"s":17760,"v":6594},{"s":18000,"v":6594},{"s":18240,"v":6594},{"s":18720,"v":6594},{"s":18960,"v":6594},{"s":19200,"v":6594},{"s":19440,"v":6594},{"s":19680,"v":6594},{"s":19920,"v":6594},{"s":20160,"v":6594},{"s":20400,"v":6594},{"s":20640,"v":6594},{"s":20880,"v":6594},{"s":21120,"v":6594},{"s":21360,"v":6594},{"s":21600,"v":6594},{"s":21840,"v":6594},{"s":22080,"v":6594},{"s":22320,"v":6594},{"s":22560,"v":6594},{"s":22800,"v":6594},{"s":23040,"v":6594},{"s":23280,"v":6594},{"s":23520,"v":6594},{"s":24240,"v":6594},{"s":24480,"v":6594},{"s":24720,"v":6594},{"s":24960,"v":6594},{"s":25440,"v":6594},{"s":25680,"v":6594},{"s":25920,"v":6594},{"s":26160,"v":6594},{"s":26400,"v":6594},{"s":26640,"v":6594},{"s":26880,"v":6594},{"s":27360,"v":6594},{"s":27600,"v":6594},{"s":27840,"v":6594},{"s":28080,"v":6594},{"s":28320,"v":6594},{"s":28560,"v":6594},{"s":28800,"v":6594},{"s":29280,"v":6594},{"s":29520,"v":6594},{"s":29760,"v":6594},{"s":30000,"v":6594},{"s":30240,"v":6594},{"s":30480,"v":6594},{"s":30960,"v":6594},{"s":31200,"v":6594},{"s":31440,"v":6594},{"s":31680,"v":6594},{"s":31920,"v":6594},{"s":32160,"v":6594},{"s":32400,"v":6594},{"s":32640,"v":6594},
{"s":0,"v":6587},{"s":240,"v":6587},{"s":480,"v":6587},{"s":720,"v":6587},{"s":960,"v":6587},{"s":1200,"v":6587},{"s":1440,"v":6587},{"s":1680,"v":6587},{"s":1920,"v":6587},{"s":2160,"v":6587},{"s":2400,"v":6587},{"s":3120,"v":6587},{"s":3360,"v":6587},{"s":3600,"v":6587},{"s":3840,"v":6587},{"s":4080,"v":6587},{"s":4560,"v":6587},{"s":4800,"v":6587},{"s":5040,"v":6587},{"s":5280,"v":6587},{"s":6240,"v":6587},{"s":7200,"v":6587},{"s":7920,"v":6587},{"s":8160,"v":6587},{"s":8400,"v":6587},{"s":8640,"v":6587},{"s":8880,"v":6587},{"s":9120,"v":6587},{"s":9360,"v":6587},{"s":9600,"v":6587},{"s":9840,"v":6587},{"s":10080,"v":6587},{"s":10320,"v":6587},{"s":10560,"v":6587},{"s":10800,"v":6587},{"s":11040,"v":6587},{"s":11280,"v":6587},{"s":11520,"v":6587},{"s":12240,"v":6587},{"s":12480,"v":6587},{"s":12720,"v":6587},{"s":13200,"v":6587},{"s":13440,"v":6587},{"s":13680,"v":6587},{"s":13920,"v":6587},{"s":14160,"v":6587},{"s":14400,"v":6587},{"s":14640,"v":6587},{"s":14880,"v":6587},{"s":15120,"v":6587},{"s":15360,"v":6587},{"s":15600,"v":6587},{"s":15840,"v":6587},{"s":16080,"v":6587},{"s":16320,"v":6587},{"s":16560,"v":6587},{"s":16800,"v":6587},{"s":17040,"v":6587},{"s":17280,"v":6587},{"s":17760,"v":6587},{"s":18000,"v":6587},{"s":18240,"v":6587},{"s":18480,"v":6587},{"s":18720,"v":6587},{"s":18960,"v":6587},{"s":19200,"v":6587},{"s":19440,"v":6587},{"s":20400,"v":6587},{"s":20640,"v":6587},{"s":20880,"v":6587},{"s":21120,"v":6587},{"s":21360,"v":6587},{"s":21600,"v":6587},{"s":21840,"v":6587},{"s":22080,"v":6587},{"s":22320,"v":6587},{"s":22560,"v":6587},{"s":22800,"v":6587},{"s":23040,"v":6587},{"s":23280,"v":6587},{"s":23520,"v":6587},{"s":23760,"v":6587},{"s":24000,"v":6587},{"s":24240,"v":6587},{"s":24480,"v":6587},{"s":24720,"v":6587},{"s":25200,"v":6587},{"s":25440,"v":6587},{"s":25680,"v":6587},{"s":25920,"v":6587},{"s":26160,"v":6587},{"s":26880,"v":6587},{"s":27120,"v":6587},{"s":27360,"v":6587},{"s":27600,"v":6587},{"s":27840,"v":6587},{"s":28080,"v":6587},{"s":28320,"v":6587},{"s":28560,"v":6587},{"s":28800,"v":6587},{"s":29040,"v":6587},{"s":29280,"v":6587},{"s":29520,"v":6587},{"s":29760,"v":6587},{"s":30000,"v":6587},{"s":30240,"v":6587},{"s":30480,"v":6587},{"s":30720,"v":6587},{"s":30960,"v":6587},{"s":31200,"v":6587},{"s":31440,"v":6587},{"s":31680,"v":6587},{"s":31920,"v":6587},{"s":32160,"v":6587},{"s":32400,"v":6587},{"s":32640,"v":6587},
{"s":1690,"v":6599},{"s":2290,"v":6599},{"s":2890,"v":6599},{"s":4570,"v":6599},{"s":6050,"v":6599},{"s":6210,"v":6599},{"s":6690,"v":6599},{"s":20450,"v":6599},{"s":22690,"v":6599},
{"s":18130,"v":6598},{"s":21930,"v":6598},{"s":25170,"v":6598},
{"s":930,"v":6597},{"s":2890,"v":6597},{"s":4050,"v":6597},{"s":4730,"v":6597},{"s":5850,"v":6597},{"s":6650,"v":6597},{"s":8010,"v":6597},{"s":8250,"v":6597},{"s":9770,"v":6597},{"s":13850,"v":6597},{"s":14450,"v":6597},{"s":15530,"v":6597},{"s":16250,"v":6597},{"s":25450,"v":6597},{"s":26050,"v":6597},{"s":26410,"v":6597},{"s":26970,"v":6597},{"s":28810,"v":6597},{"s":29690,"v":6597},{"s":30010,"v":6597},{"s":30730,"v":6597},{"s":32690,"v":6597},
{"s":2650,"v":6585},{"s":4610,"v":6585},{"s":8450,"v":6585},{"s":9250,"v":6585},{"s":14930,"v":6585},{"s":18730,"v":6585},{"s":19210,"v":6585},{"s":19850,"v":6585},{"s":20610,"v":6585},{"s":21130,"v":6585},{"s":23650,"v":6585},{"s":27130,"v":6585},{"s":32610,"v":6585},
{"s":1130,"v":6583},{"s":1890,"v":6583},{"s":8530,"v":6583},{"s":8850,"v":6583},{"s":9810,"v":6583},{"s":10330,"v":6583},{"s":13210,"v":6583},{"s":13930,"v":6583},{"s":14050,"v":6583},{"s":16610,"v":6583},{"s":19050,"v":6583},{"s":19450,"v":6583},{"s":20530,"v":6583},{"s":21650,"v":6583},{"s":21850,"v":6583},{"s":22210,"v":6583},{"s":23850,"v":6583},{"s":25330,"v":6583},{"s":27210,"v":6583},{"s":27850,"v":6583},{"s":28210,"v":6583},{"s":29930,"v":6583},{"s":30530,"v":6583},{"s":31330,"v":6583},{"s":32050,"v":6583},
{"s":14930,"v":6581},{"s":15530,"v":6581},{"s":18530,"v":6581}
]},
"encoding":{
"x":{"field":"s","type":"quantitative","scale":{"domain":[-1630,34530],"nice":false,"zero":false},"axis":{"values":[0,5000,10000,15000,20000,25000,30000],"format":"d","title":"Sample #","titlePadding":5}},
"y":{"field":"v","type":"quantitative","scale":{"domain":[6335.4,6611.6],"nice":false,"zero":false},"axis":{"values":[6350,6400,6450,6500,6550,6600],"format":"d","title":"ADC Counts","titlePadding":6}},
"color":{"datum":"Samples","type":"nominal","scale":{"range":["black"]},"legend":{"title":null,"orient":"top-right","offset":7,"padding":6,"fillColor":"rgba(255,255,255,0.8)","strokeColor":"#cccccc","cornerRadius":3,"labelFont":"DejaVu Sans","labelFontSize":13.9,"labelColor":"black","labelLimit":400,"symbolType":"circle","symbolSize":34,"symbolStrokeWidth":0,"symbolOffset":8,"labelOffset":17,"labelExpr":"['Samples', 'μ = 6378.75, σ = 66.06']"}}
},
"layer":[
{"transform":[{"filter":"datum.v >= 6353 && datum.v <= 6363"}],"mark":{"type":"circle","size":62,"opacity":1}},
{"transform":[{"filter":"datum.v == 6587 || datum.v == 6590 || datum.v == 6591 || datum.v == 6594"}],"mark":{"type":"circle","size":44,"opacity":1}},
{"transform":[{"filter":"(datum.v < 6353 || datum.v > 6363) && datum.v != 6587 && datum.v != 6590 && datum.v != 6591 && datum.v != 6594"}],"mark":{"type":"circle","size":34,"opacity":1}}
]
}
